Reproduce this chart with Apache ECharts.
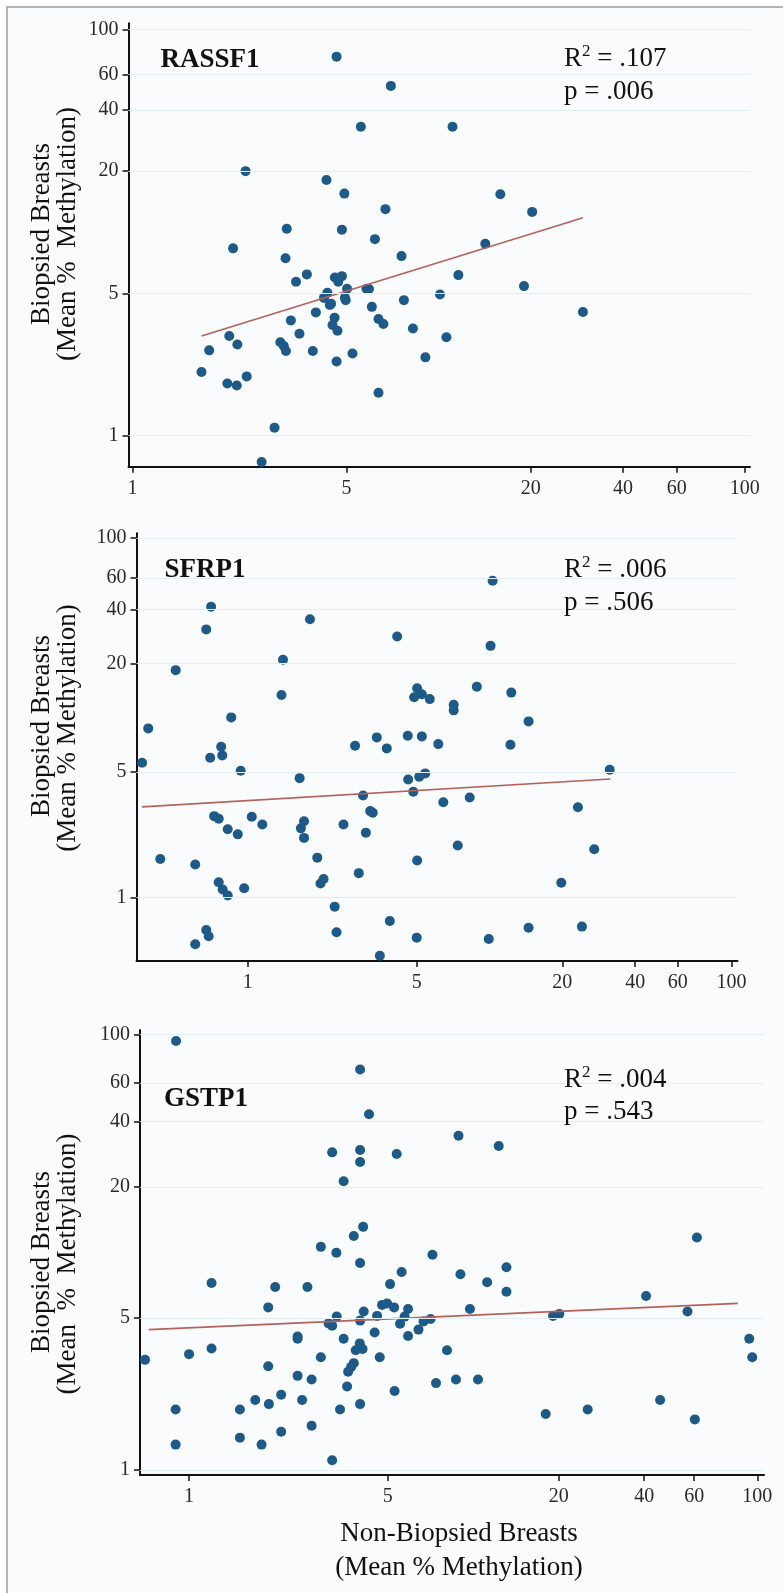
<!DOCTYPE html>
<html style="height: 100%">
    <head>
        <title>Methylation scatter</title>
        <meta charset="utf-8">
    </head>
    <body style="height: 100%; margin: 0">
        <div id="container" style="width: 783px; height: 1593px"></div>

        <script type="text/javascript" src="https://cdn.jsdelivr.net/npm/echarts@6.0.0/dist/echarts.min.js"></script>
        <script type="text/javascript">
            // tick labels (same on every panel)
            var xTicks = [1, 5, 20, 40, 60, 100];
            var yTicks = [1, 5, 20, 40, 60, 100];

            // RASSF1: non-biopsied (x) vs biopsied (y), mean % methylation
            var rassf1X = [4.64, 6.98, 5.57, 11.1, 2.34, 4.30, 4.92, 15.9, 6.70, 20.2, 3.19, 4.83, 6.19, 14.2, 2.13, 3.16,
                7.56, 3.71, 3.42, 4.58, 4.83, 4.70, 11.6, 19.0, 5.02, 5.81, 4.33, 10.1, 4.22, 4.94, 4.97, 7.70, 4.41, 6.05,
                29.6, 3.97, 4.57, 3.29, 6.36, 6.60, 4.50, 8.24, 4.67, 3.51, 2.07, 10.6, 2.20, 3.04, 3.12, 1.78, 3.17, 3.88,
                5.23, 9.05, 4.64, 1.68, 2.36, 2.04, 2.19, 6.36, 2.91, 2.64, 4.45, 5.92];
            var rassf1Y = [73.3, 52.6, 33.1, 33.1, 20.0, 18.1, 15.5, 15.4, 13.0, 12.6, 10.4, 10.3, 9.25, 8.77, 8.33, 7.44,
                7.63, 6.20, 5.70, 5.99, 6.08, 5.70, 6.15, 5.43, 5.27, 5.27, 5.03, 4.94, 4.75, 4.75, 4.63, 4.63, 4.38, 4.29,
                4.05, 4.03, 3.79, 3.68, 3.74, 3.53, 3.49, 3.36, 3.27, 3.16, 3.08, 3.04, 2.80, 2.87, 2.75, 2.62, 2.60, 2.60,
                2.53, 2.42, 2.31, 2.05, 1.95, 1.80, 1.76, 1.62, 1.09, 0.738, 4.45, 5.25];
            var rassf1FitX = [1.68, 29.6];
            var rassf1FitY = [3.08, 11.8];

            // SFRP1
            var sfrp1X = [10.3, 0.706, 1.81, 0.674, 4.15, 10.1, 1.40, 0.504, 8.86, 5.02, 12.3, 1.38, 5.25, 4.88, 5.66, 7.11,
                7.11, 0.855, 0.388, 14.5, 3.42, 4.59, 5.25, 2.78, 6.14, 12.2, 3.76, 0.777, 0.785, 0.700, 0.366, 0.936, 31.4,
                5.42, 5.12, 1.64, 4.61, 4.84, 3.00, 8.28, 6.44, 23.2, 3.21, 3.29, 0.727, 0.759, 1.04, 1.15, 1.71, 2.49,
                1.66, 0.827, 0.910, 3.08, 1.71, 7.39, 27.1, 1.94, 0.435, 5.02, 0.607, 2.88, 2.06, 2.00, 0.759, 0.788, 0.827,
                0.967, 19.8, 2.29, 3.87, 24.1, 14.5, 0.674, 2.33, 0.690, 5.00, 9.93, 0.607, 3.52];
            var sfrp1Y = [57.7, 41.4, 35.3, 31.0, 28.3, 25.1, 21.0, 18.4, 14.9, 14.6, 13.8, 13.4, 13.5, 13.0, 12.7, 11.8,
                11.0, 10.05, 8.73, 9.55, 7.78, 7.94, 7.88, 7.00, 7.14, 7.08, 6.76, 6.90, 6.18, 6.00, 5.63, 5.08, 5.14,
                4.91, 4.70, 4.62, 4.54, 3.88, 3.70, 3.61, 3.39, 3.18, 3.03, 2.97, 2.84, 2.75, 2.82, 2.55, 2.66, 2.55,
                2.43, 2.40, 2.25, 2.30, 2.15, 1.95, 1.86, 1.67, 1.64, 1.61, 1.53, 1.37, 1.27, 1.20, 1.22, 1.11, 1.03,
                1.13, 1.21, 0.892, 0.743, 0.691, 0.681, 0.662, 0.643, 0.611, 0.600, 0.590, 0.551, 0.476];
            var sfrp1FitX = [0.366, 31.6];
            var sfrp1FitY = [3.20, 4.57];

            // GSTP1
            var gstp1X = [0.90, 4.00, 4.30, 8.88, 12.3, 3.19, 4.00, 5.38, 4.00, 3.50, 4.10, 3.80, 61.3, 2.91, 3.30, 7.19,
                4.00, 13.1, 5.60, 9.02, 11.2, 1.20, 5.10, 2.01, 2.61, 13.1, 40.6, 1.90, 4.78, 4.98, 5.27, 5.90, 9.74, 4.12,
                56.8, 4.59, 3.31, 5.74, 4.00, 7.08, 6.69, 19.1, 20.1, 5.53, 3.10, 3.19, 6.42, 4.50, 2.41, 5.90, 2.41, 3.50,
                93.7, 3.99, 4.02, 3.86, 4.08, 1.20, 8.09, 0.70, 1.00, 2.91, 4.69, 96.0, 3.80, 3.72, 1.90, 3.63, 2.41, 2.70,
                7.40, 8.70, 10.4, 3.60, 5.29, 2.11, 1.71, 2.50, 45.5, 1.91, 4.00, 0.897, 1.51, 3.40, 25.3, 18.0, 60.3, 2.70,
                2.11, 1.51, 0.897, 1.80, 3.19];
            var gstp1Y = [93.5, 69.1, 43.1, 34.3, 30.8, 28.8, 29.5, 28.3, 26.0, 21.2, 13.1, 11.9, 11.7, 10.6, 9.96, 9.75,
                8.94, 8.54, 8.13, 7.93, 7.29, 7.23, 7.15, 6.94, 6.94, 6.60, 6.31, 5.59, 5.74, 5.83, 5.59, 5.50, 5.50, 5.35,
                5.35, 5.11, 5.07, 5.07, 4.86, 4.94, 4.82, 5.11, 5.21, 4.70, 4.72, 4.60, 4.42, 4.29, 4.11, 4.13, 4.01, 4.01,
                4.01, 3.82, 3.66, 3.55, 3.60, 3.62, 3.55, 3.21, 3.41, 3.30, 3.30, 3.30, 3.10, 2.98, 3.00, 2.83, 2.71, 2.61,
                2.51, 2.61, 2.61, 2.42, 2.31, 2.22, 2.10, 2.10, 2.10, 2.01, 2.01, 1.90, 1.90, 1.90, 1.90, 1.81, 1.71, 1.60,
                1.50, 1.41, 1.31, 1.31, 1.11];
            var gstp1FitX = [0.721, 85.4];
            var gstp1FitY = [4.42, 5.83];

            var dom = document.getElementById("container");
            var myChart = echarts.init(dom, null, { renderer: 'canvas' });

            var serif = 'Liberation Serif';
            var dotColor = '#1d5a87';
            var fitColor = '#b5615c';
            var gridColor = '#e2eef0';

            function pairs(xs, ys) {
                var out = [];
                for (var i = 0; i < xs.length; i++) out.push([xs[i], ys[i]]);
                return out;
            }

            function xAxisFor(idx, min, max) {
                return {
                    type: 'log', gridIndex: idx, min: min, max: max,
                    axisLine: { lineStyle: { color: '#111', width: 2 } },
                    axisTick: { customValues: xTicks, length: 6, lineStyle: { color: '#111', width: 1.5 } },
                    axisLabel: { customValues: xTicks, margin: 12, fontFamily: serif, fontSize: 20, color: '#2a2a2a',
                        formatter: function (v) { return String(Math.round(v)); } },
                    splitLine: { show: false }
                };
            }
            function yAxisFor(idx, min, max) {
                return {
                    type: 'log', gridIndex: idx, min: min, max: max,
                    axisLine: { lineStyle: { color: '#111', width: 2 } },
                    axisTick: { customValues: yTicks, length: 6, lineStyle: { color: '#111', width: 1.5 } },
                    axisLabel: { customValues: yTicks, margin: 10, fontFamily: serif, fontSize: 20, color: '#2a2a2a',
                        formatter: function (v) { return String(Math.round(v)); } },
                    splitLine: { show: false }
                };
            }
            function dots(idx, xs, ys) {
                return {
                    type: 'scatter', xAxisIndex: idx, yAxisIndex: idx,
                    data: pairs(xs, ys), symbolSize: 10,
                    itemStyle: { color: dotColor, opacity: 1 },
                    markLine: {
                        silent: true, symbol: ['none', 'none'], label: { show: false },
                        lineStyle: { color: gridColor, width: 1, type: 'solid' },
                        data: yTicks.map(function (v) { return { yAxis: v }; })
                    },
                    z: 3
                };
            }
            function fit(idx, xs, ys) {
                return {
                    type: 'line', xAxisIndex: idx, yAxisIndex: idx,
                    data: pairs(xs, ys), showSymbol: false,
                    lineStyle: { color: fitColor, width: 1.6 }, z: 4
                };
            }
            function txt(x, y, text, size, weight, rotate) {
                return {
                    type: 'text', x: x, y: y, rotation: rotate || 0, z: 10,
                    style: {
                        text: text, fontFamily: serif, fontSize: size, fontWeight: weight || 'normal',
                        fill: '#111', align: 'center', verticalAlign: 'middle'
                    }
                };
            }
            function stat(x, y, text) {
                return {
                    type: 'text', x: x, y: y, z: 10,
                    style: {
                        text: text, fontFamily: serif, fontSize: 27, fill: '#111',
                        align: 'left', verticalAlign: 'middle',
                        rich: {
                            t: { fontFamily: serif, fontSize: 27, fill: '#111' },
                            s: { fontFamily: serif, fontSize: 17, fill: '#111', padding: [0, 0, 14, 0] }
                        }
                    }
                };
            }

            option = {
                animation: false,
                backgroundColor: '#ffffff',
                grid: [
                    { left: 128.5, top: 23.3, width: 621.5, height: 443.4, outerBoundsMode: 'none' },
                    { left: 136.5, top: 533.3, width: 601, height: 427.7, outerBoundsMode: 'none' },
                    { left: 140, top: 1030, width: 624, height: 445, outerBoundsMode: 'none' }
                ],
                xAxis: [
                    xAxisFor(0, 0.97, 104),
                    xAxisFor(1, 0.347, 106),
                    xAxisFor(2, 0.672, 105.6)
                ],
                yAxis: [
                    yAxisFor(0, 0.7, 107),
                    yAxisFor(1, 0.445, 106),
                    yAxisFor(2, 0.95, 105)
                ],
                series: [
                    dots(0, rassf1X, rassf1Y), fit(0, rassf1FitX, rassf1FitY),
                    dots(1, sfrp1X, sfrp1Y), fit(1, sfrp1FitX, sfrp1FitY),
                    dots(2, gstp1X, gstp1Y), fit(2, gstp1FitX, gstp1FitY)
                ],
                graphic: [
                    {
                        type: 'rect', z: -10, silent: true,
                        shape: { x: 7, y: 7, width: 800, height: 1600 },
                        style: { fill: '#fafbfd', stroke: '#9c9c9c', lineWidth: 1.5 }
                    },
                    // panel titles
                    txt(210, 60, 'RASSF1', 27, 'bold'),
                    txt(205, 570, 'SFRP1', 27, 'bold'),
                    txt(206, 1099, 'GSTP1', 27, 'bold'),
                    stat(564, 59, '{t|R}{s|2}{t| = .107}'),
                    stat(564, 92, '{t|p = .006}'),
                    stat(564, 570, '{t|R}{s|2}{t| = .006}'),
                    stat(564, 603, '{t|p = .506}'),
                    stat(564, 1080, '{t|R}{s|2}{t| = .004}'),
                    stat(564, 1112, '{t|p = .543}'),
                    // y axis names
                    txt(42, 234, 'Biopsied Breasts', 27, 'normal', Math.PI / 2),
                    txt(68, 234, '(Mean %  Methylation)', 27, 'normal', Math.PI / 2),
                    txt(42, 726, 'Biopsied Breasts', 27, 'normal', Math.PI / 2),
                    txt(68, 728, '(Mean % Methylation)', 27, 'normal', Math.PI / 2),
                    txt(42, 1262, 'Biopsied Breasts', 27, 'normal', Math.PI / 2),
                    txt(68, 1264, '(Mean  %  Methylation)', 27, 'normal', Math.PI / 2),
                    // x axis name
                    txt(459, 1534, 'Non-Biopsied Breasts', 27),
                    txt(459, 1568, '(Mean % Methylation)', 27)
                ]
            };

            if (option && typeof option === 'object') {
                myChart.setOption(option);
            }
            window.onresize = function () {
                myChart.resize();
            };
        </script>
    </body>
</html>
